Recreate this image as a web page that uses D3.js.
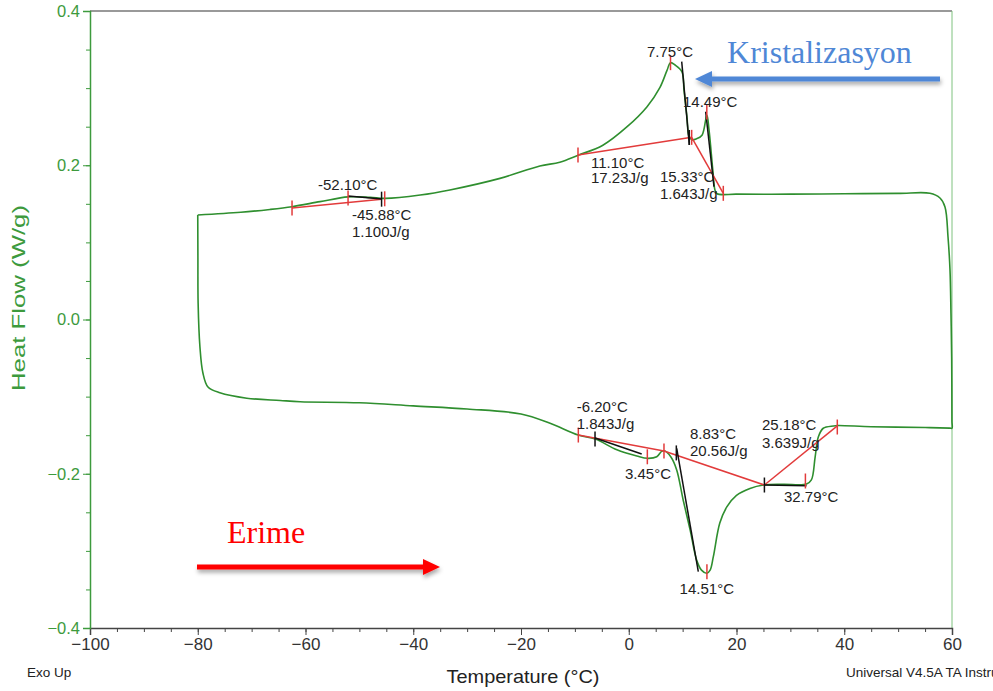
<!DOCTYPE html>
<html>
<head>
<meta charset="utf-8">
<script src="https://cdn.jsdelivr.net/npm/d3@7"></script>
<style>
  body { margin: 0; background: #fff; }
  svg { display: block; }
  text { font-family: "Liberation Sans", Arial, sans-serif; }
</style>
</head>
<body>
<svg id="chart" width="993" height="691"></svg>
<script>
const xTicks = [-100, -80, -60, -40, -20, 0, 20, 40, 60];
const yTicks = [-0.4, -0.2, 0.0, 0.2, 0.4];

// DSC loop: down the left side, heating along the bottom, up at 60 °C, cooling back along the top
const loopT = [-80, -79.97, -79.93, -79.6, -79.05, -78.1, -75.9, -70.9, -64.7, -61, -50, -40, -30, -20, -14.6,
  -9.4, -6.2, -2.2, 1.5, 3.5, 5.2, 6.1, 6.7, 7.8, 8.9, 10.1, 11.4, 12.6, 13.5, 14.5, 15.1, 15.7, 16.9, 18.2,
  20, 22.5, 25, 28.7, 33, 33.9, 34.6, 35.2, 36.1, 38, 38.8, 45, 55, 59.6, 60,
  59.99, 59.94, 59.81, 59.63, 59.26, 58.7, 57.77, 55.9, 50, 40, 30, 20, 16.4, 16.0, 15.6, 14.9, 14.5, 13.6, 12.5,
  11.75, 11.2, 10.8, 10.26, 9.88, 8.6, 7.75, 7.1, 5.8, 3.4, -0.3, -4.8, -9.4, -12.8, -16.5, -23.9, -33.2,
  -38.7, -45.2, -48, -52.1, -57.3, -62.5, -66.6, -72, -80];
const loopHF = [0.1355, 0.08, 0.021, -0.035, -0.069, -0.0875, -0.095, -0.102, -0.105, -0.1066, -0.108, -0.112,
  -0.116, -0.1225, -0.1346, -0.1498, -0.155, -0.169, -0.177, -0.180, -0.178, -0.171, -0.1705, -0.178, -0.195,
  -0.234, -0.273, -0.312, -0.325, -0.329, -0.325, -0.3075, -0.264, -0.243, -0.228, -0.219, -0.2146, -0.2137,
  -0.2133, -0.208, -0.178, -0.152, -0.141, -0.138, -0.1375, -0.139, -0.140, -0.1409, -0.141,
  -0.132, -0.05, 0.008, 0.064, 0.107, 0.146, 0.1575, 0.1637, 0.1635, 0.163, 0.1625, 0.1625, 0.163, 0.168, 0.194,
  0.246, 0.265, 0.239, 0.234, 0.233, 0.237, 0.263, 0.297, 0.321, 0.330, 0.333, 0.323, 0.301, 0.276, 0.250,
  0.226, 0.213, 0.204, 0.199, 0.183, 0.168, 0.1614, 0.157, 0.1584, 0.159, 0.1528, 0.1463, 0.1427, 0.139, 0.1355];

// integration baselines (red) and tangents (black): [T1, HF1, T2, HF2]
const redLines = [
  [-62.5, 0.1446, -45.88, 0.1559],
  [-9.42, 0.2133, 11.68, 0.2362],
  [11.68, 0.2362, 17.55, 0.1636],
  [-9.36, -0.1498, 6.54, -0.1705],
  [6.54, -0.1705, 25.18, -0.2146],
  [25.18, -0.2146, 38.71, -0.1380]
];
const blackLines = [
  [-52.1, 0.1601, -45.8, 0.1562],
  [9.83, 0.3343, 11.24, 0.2263],
  [14.28, 0.2694, 15.82, 0.1722],
  [-6.26, -0.1536, 2.40, -0.1744],
  [8.90, -0.1670, 12.91, -0.3270],
  [25.18, -0.2146, 33.0, -0.2155]
];
const redMarks = [[-62.5, 0.1446], [-52.1, 0.1575], [-45.3, 0.1565], [-9.42, 0.2133], [7.75, 0.333],
  [11.68, 0.2362], [14.49, 0.269], [17.55, 0.1636], [-9.36, -0.1498], [3.45, -0.178], [6.54, -0.1705],
  [14.51, -0.327], [32.79, -0.2094], [38.71, -0.1394]];
const blackMarks = [[-45.88, 0.156], [11.24, 0.236], [-6.26, -0.155], [8.83, -0.173], [25.18, -0.2146]];

// result labels: [T, HF, text]
const labels = [
  [-57.68, 0.1744, "-52.10°C"], [-51.37, 0.1355, "-45.88°C"], [-51.37, 0.1138, "1.100J/g"],
  [3.39, 0.3472, "7.75°C"], [10.07, 0.2824, "14.49°C"],
  [-7.01, 0.2033, "11.10°C"], [-7.01, 0.1839, "17.23J/g"],
  [5.79, 0.1852, "15.33°C"], [5.79, 0.1636, "1.643J/g"],
  [-9.66, -0.1131, "-6.20°C"], [-9.66, -0.1346, "1.843J/g"], [-0.70, -0.1994, "3.45°C"],
  [11.37, -0.1476, "8.83°C"], [11.37, -0.1701, "20.56J/g"],
  [24.73, -0.1368, "25.18°C"], [24.73, -0.1597, "3.639J/g"],
  [28.82, -0.2298, "32.79°C"], [9.44, -0.3485, "14.51°C"]
];

const svg = d3.select("#chart");
const x = d3.scaleLinear().domain([-100, 60]).range([90, 952]);
const y = d3.scaleLinear().domain([-0.4, 0.4]).range([628, 11]);

const green = "#3d9a3d";
const curveGreen = "#2f8f2f";
const red = "#e23b3b";

// drop shadow for the arrows
const defs = svg.append("defs");
const f = defs.append("filter").attr("id", "shadow").attr("x", "-10%").attr("y", "-100%")
  .attr("width", "120%").attr("height", "400%");
f.append("feDropShadow").attr("dx", 1).attr("dy", 3).attr("stdDeviation", 2)
  .attr("flood-color", "#000").attr("flood-opacity", 0.35);

// frame
svg.append("line").attr("x1", 90).attr("x2", 952).attr("y1", 11).attr("y2", 11)
  .attr("stroke", "#777").attr("stroke-width", 1.5);
svg.append("line").attr("x1", 952).attr("x2", 952).attr("y1", 11).attr("y2", 628)
  .attr("stroke", "#7fc27f").attr("stroke-width", 1);

// x axis
const xAxis = svg.append("g").attr("transform", "translate(0,628)");
xAxis.call(d3.axisBottom(x).tickValues(d3.range(-100, 61, 5)).tickSize(4).tickFormat(""));
xAxis.call(g => g.select(".domain").remove());
xAxis.append("g").call(d3.axisBottom(x).tickValues(xTicks).tickSize(7).tickPadding(3).tickFormat(d3.format("d")));
xAxis.selectAll("line").attr("stroke", "#444");
xAxis.selectAll(".domain").attr("stroke", "#444").attr("stroke-width", 1.5);
xAxis.selectAll("text").attr("fill", "#333").style("font-size", "17px");

// y axis
const yAxis = svg.append("g").attr("transform", "translate(90,0)");
yAxis.call(d3.axisLeft(y).tickValues(d3.range(-0.4, 0.401, 0.05)).tickSize(4).tickFormat(""));
yAxis.call(g => g.select(".domain").remove());
yAxis.append("g").call(d3.axisLeft(y).tickValues(yTicks).tickSize(7).tickPadding(3).tickFormat(d3.format(".1f")));
yAxis.selectAll("line").attr("stroke", green);
yAxis.selectAll(".domain").attr("stroke", green).attr("stroke-width", 1.5);
yAxis.selectAll("text").attr("fill", green).style("font-size", "16.5px");

// axis titles and footers
svg.append("text").attr("transform", "translate(25,298) rotate(-90)").attr("text-anchor", "middle")
  .attr("fill", green).style("font-size", "19px")
  .attr("textLength", 186).attr("lengthAdjust", "spacingAndGlyphs").text("Heat Flow (W/g)");
svg.append("text").attr("x", 523).attr("y", 683).attr("text-anchor", "middle")
  .attr("fill", "#222").style("font-size", "19px")
  .attr("textLength", 153).attr("lengthAdjust", "spacingAndGlyphs").text("Temperature (°C)");
svg.append("text").attr("x", 27).attr("y", 677).attr("fill", "#222").style("font-size", "13.5px").text("Exo Up");
svg.append("text").attr("x", 846).attr("y", 677).attr("fill", "#222").style("font-size", "13.5px")
  .text("Universal V4.5A TA Instruments");

// data curve
const line = d3.line().x(d => x(d[0])).y(d => y(d[1])).curve(d3.curveCatmullRom.alpha(0.5));
svg.append("path").datum(loopT.map((t, i) => [t, loopHF[i]]))
  .attr("d", line).attr("fill", "none").attr("stroke", curveGreen).attr("stroke-width", 1.6);

// analysis lines
function segs(data, color) {
  svg.append("g").selectAll("line").data(data).join("line")
    .attr("x1", d => x(d[0])).attr("y1", d => y(d[1]))
    .attr("x2", d => x(d[2])).attr("y2", d => y(d[3]))
    .attr("stroke", color).attr("stroke-width", 1.5);
}
segs(redLines, red);
segs(blackLines, "#111");

function marks(data, color) {
  svg.append("g").selectAll("line").data(data).join("line")
    .attr("x1", d => x(d[0])).attr("x2", d => x(d[0]))
    .attr("y1", d => y(d[1]) - 7.5).attr("y2", d => y(d[1]) + 7.5)
    .attr("stroke", color).attr("stroke-width", 1.5);
}
marks(redMarks, red);
marks(blackMarks, "#111");

svg.append("g").selectAll("text").data(labels).join("text")
  .attr("x", d => x(d[0])).attr("y", d => y(d[1])).attr("dy", "0.36em")
  .attr("fill", "#222").style("font-size", "15px").text(d => d[2]);

// phase annotations
const serif = '"Liberation Serif", "Times New Roman", serif';
svg.append("text").attr("x", x(18.24)).attr("y", y(0.3326)).attr("fill", "#4f87d6")
  .style("font-family", serif).style("font-size", "32px").text("Kristalizasyon");
svg.append("text").attr("x", x(-74.57)).attr("y", y(-0.2898)).attr("fill", "#ff0000")
  .style("font-family", serif).style("font-size", "32px").text("Erime");

function arrow(t1, t2, hf, color) {
  const g = svg.append("g").attr("filter", "url(#shadow)");
  const x1 = x(t1), x2 = x(t2), yy = y(hf);
  const dir = Math.sign(x2 - x1);
  g.append("line").attr("x1", x1).attr("x2", x2 - dir * 14).attr("y1", yy).attr("y2", yy)
    .attr("stroke", color).attr("stroke-width", 5);
  g.append("path").attr("d", `M${x2},${yy}L${x2 - dir * 17},${yy - 8}L${x2 - dir * 17},${yy + 8}Z`)
    .attr("fill", color);
}
arrow(57.77, 12.3, 0.3118, "#4f87d6");
arrow(-80.14, -35.03, -0.3209, "#ff0000");
</script>
</body>
</html>
